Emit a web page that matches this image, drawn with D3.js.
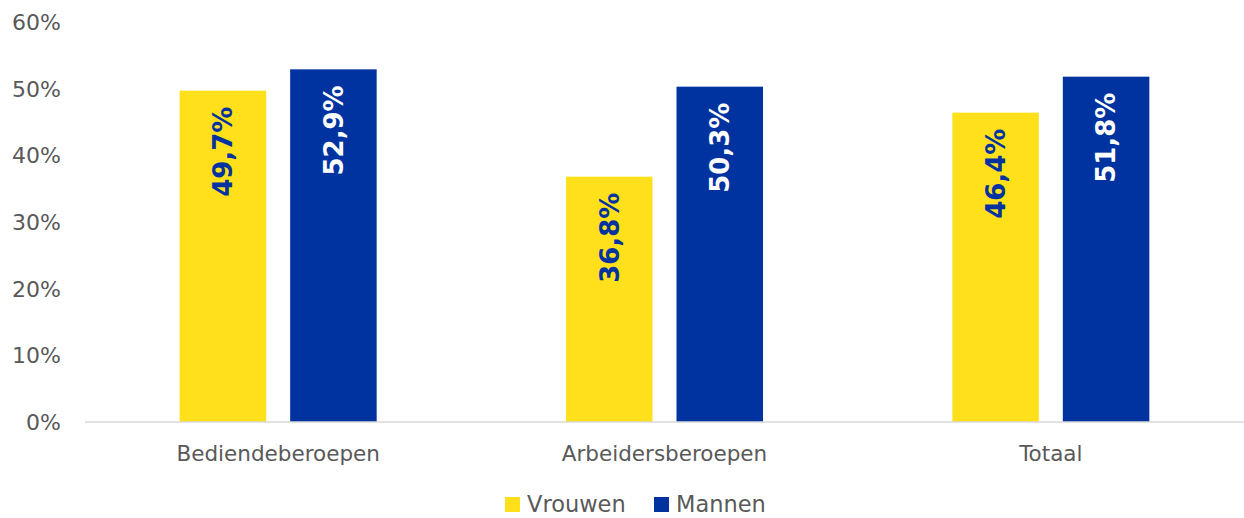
<!DOCTYPE html>
<html>
<head>
<meta charset="utf-8">
<script src="https://cdn.jsdelivr.net/npm/d3@7"></script>
<style>
  body { margin: 0; background: #fff; }
  text { font-family: "DejaVu Sans", sans-serif; }
</style>
</head>
<body>
<svg id="chart" width="1244" height="518"></svg>
<script>
var categories = ["Bediendeberoepen", "Arbeidersberoepen", "Totaal"];
var series = ["Vrouwen", "Mannen"];
var vrouwen = [49.7, 36.8, 46.4];
var mannen = [52.9, 50.3, 51.8];
var yTicks = [0, 10, 20, 30, 40, 50, 60];

var colors = { Vrouwen: "#ffe01b", Mannen: "#0033a0" };
var labelColors = { Vrouwen: "#0033a0", Mannen: "#ffffff" };

var svg = d3.select("#chart"),
    margin = { left: 85, right: 0, top: 22, bottom: 96 },
    width = +svg.attr("width") - margin.left - margin.right,
    height = +svg.attr("height") - margin.top - margin.bottom;

var data = categories.map(function(c, i) {
  return { cat: c, values: [ { key: "Vrouwen", value: vrouwen[i] }, { key: "Mannen", value: mannen[i] } ] };
});

var x0 = d3.scaleBand().domain(categories).range([0, width]).paddingInner(0.49).paddingOuter(0.245);
var x1 = d3.scaleBand().domain(series).range([0, x0.bandwidth()]).paddingInner(0.217);
var y = d3.scaleLinear().domain([0, 60]).range([height, 0]);

var g = svg.append("g").attr("transform", "translate(" + margin.left + "," + margin.top + ")");

// y tick labels
g.selectAll(".ytick")
  .data(yTicks)
  .enter().append("text")
    .attr("class", "ytick")
    .attr("x", -24)
    .attr("y", function(d) { return y(d); })
    .attr("dy", "0.36em")
    .attr("text-anchor", "end")
    .style("font-size", "22px")
    .style("fill", "#595959")
    .text(function(d) { return d + "%"; });

var groups = g.selectAll(".group")
  .data(data)
  .enter().append("g")
    .attr("class", "group")
    .attr("transform", function(d) { return "translate(" + x0(d.cat) + ",0)"; });

groups.selectAll("rect")
  .data(function(d) { return d.values; })
  .enter().append("rect")
    .attr("x", function(d) { return x1(d.key); })
    .attr("y", function(d) { return y(d.value); })
    .attr("width", x1.bandwidth())
    .attr("height", function(d) { return height - y(d.value); })
    .attr("fill", function(d) { return colors[d.key]; });

groups.selectAll(".val")
  .data(function(d) { return d.values; })
  .enter().append("text")
    .attr("class", "val")
    .attr("transform", function(d) {
      return "translate(" + (x1(d.key) + x1.bandwidth() / 2) + "," + (y(d.value) + 16) + ") rotate(-90)";
    })
    .attr("dy", "0.36em")
    .attr("text-anchor", "end")
    .style("font-size", "26px")
    .style("font-weight", "bold")
    .style("fill", function(d) { return labelColors[d.key]; })
    .text(function(d) { return d.value.toFixed(1).replace(".", ",") + "%"; });

// baseline
g.append("line")
  .attr("x1", 0).attr("x2", width)
  .attr("y1", height).attr("y2", height)
  .attr("stroke", "#d9d9d9")
  .attr("stroke-width", 1.5);

// category labels
g.selectAll(".xlab")
  .data(categories)
  .enter().append("text")
    .attr("class", "xlab")
    .attr("x", function(d) { return x0(d) + x0.bandwidth() / 2; })
    .attr("y", height + 31)
    .attr("dy", "0.36em")
    .attr("text-anchor", "middle")
    .style("font-size", "21.5px")
    .style("fill", "#595959")
    .text(function(d) { return d; });

// legend
var legend = svg.append("g").attr("transform", "translate(505,497)");
var item = legend.selectAll(".leg")
  .data(series)
  .enter().append("g")
    .attr("class", "leg")
    .attr("transform", function(d, i) { return "translate(" + (i * 149) + ",0)"; });

item.append("rect")
  .attr("width", 15).attr("height", 15)
  .attr("fill", function(d) { return colors[d]; });

item.append("text")
  .attr("x", 22)
  .attr("y", 15)
  .style("font-size", "22.5px")
  .style("fill", "#595959")
  .text(function(d) { return d; });
</script>
</body>
</html>
